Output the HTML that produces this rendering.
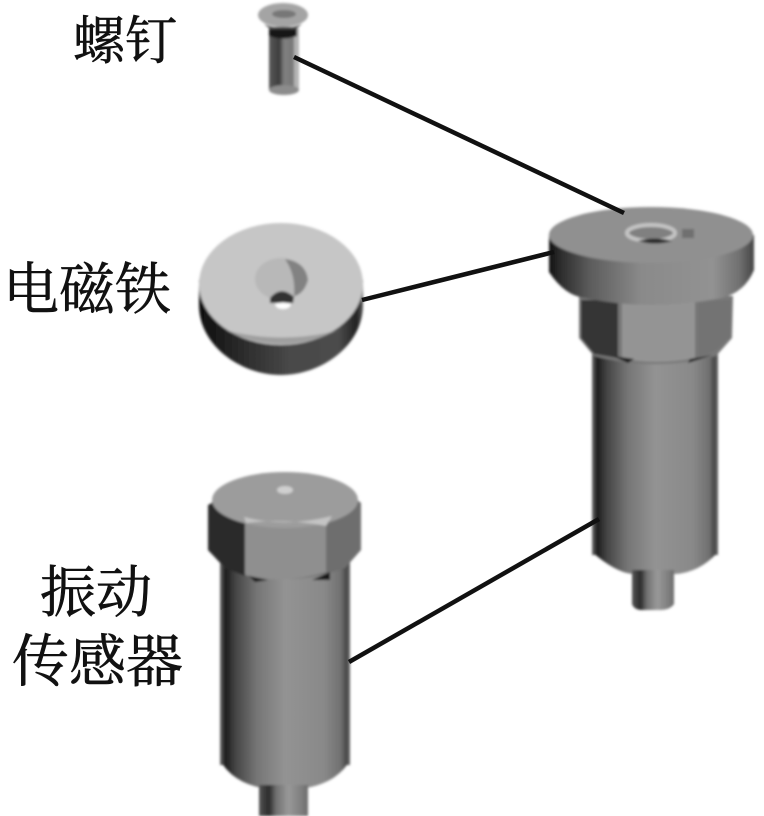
<!DOCTYPE html>
<html><head><meta charset="utf-8"><style>
html,body{margin:0;padding:0;background:#fff}
svg{display:block}
text{font-family:"Liberation Serif","Noto Serif CJK SC",serif;fill:#111;stroke:#111;stroke-width:.6}
</style></head><body>
<svg width="764" height="816" viewBox="0 0 764 816" xmlns="http://www.w3.org/2000/svg">
<defs>
<linearGradient id="body" x1="0" x2="1" y1="0" y2="0">
<stop offset="0" stop-color="#6a6a6a"/><stop offset=".04" stop-color="#1c1c1c"/><stop offset=".12" stop-color="#454545"/><stop offset=".28" stop-color="#757575"/><stop offset=".5" stop-color="#939393"/><stop offset=".8" stop-color="#898989"/><stop offset=".93" stop-color="#707070"/><stop offset=".97" stop-color="#484848"/><stop offset="1" stop-color="#666"/>
</linearGradient>
<linearGradient id="pin" x1="0" x2="1" y1="0" y2="0">
<stop offset="0" stop-color="#555"/><stop offset=".2" stop-color="#2a2a2a"/><stop offset=".35" stop-color="#707070"/><stop offset=".6" stop-color="#999"/><stop offset=".85" stop-color="#808080"/><stop offset="1" stop-color="#6c6c6c"/>
</linearGradient>
<linearGradient id="cap" x1="0" x2="1" y1="0" y2="0">
<stop offset="0" stop-color="#111"/><stop offset=".05" stop-color="#2a2a2a"/><stop offset=".2" stop-color="#5c5c5c"/><stop offset=".45" stop-color="#8a8a8a"/><stop offset=".8" stop-color="#929292"/><stop offset=".93" stop-color="#707070"/><stop offset="1" stop-color="#444"/>
</linearGradient>
<linearGradient id="mag" x1="0" x2="1" y1="0" y2="0">
<stop offset="0" stop-color="#0e0e0e"/><stop offset=".25" stop-color="#2a2a2a"/><stop offset=".55" stop-color="#484848"/><stop offset=".85" stop-color="#4c4c4c"/><stop offset=".96" stop-color="#222"/><stop offset="1" stop-color="#555"/>
</linearGradient>
<linearGradient id="screw" x1="0" x2="1" y1="0" y2="0">
<stop offset="0" stop-color="#5a5a5a"/><stop offset=".35" stop-color="#3c3c3c"/><stop offset=".5" stop-color="#808080"/><stop offset=".8" stop-color="#777"/><stop offset=".86" stop-color="#b4b4b4"/><stop offset="1" stop-color="#b4b4b4"/>
</linearGradient>
<filter id="soft" x="-5%" y="-5%" width="110%" height="110%"><feGaussianBlur stdDeviation="1.3"/></filter>
</defs>

<!-- labels -->
<text x="73" y="59" font-size="52">螺钉</text>
<text x="3" y="309" font-size="56">电磁铁</text>
<text x="40" y="612" font-size="56">振动</text>
<text x="12" y="681" font-size="57">传感器</text>

<g filter="url(#soft)">
<!-- screw -->
<rect x="269" y="28" width="30" height="62" fill="url(#screw)"/>
<ellipse cx="284" cy="90" rx="15" ry="5" fill="#8c8c8c"/>
<path d="M269 27 H297 V36 Q283 41 269 36Z" fill="#151515"/>
<ellipse cx="283" cy="15" rx="25" ry="12" fill="#a4a4a4"/>
<path d="M264 24 Q283 32 302 24 L296 29 H270Z" fill="#555"/>
<ellipse cx="284" cy="14" rx="12" ry="4" fill="#777"/>

<!-- magnet -->
<path d="M199 305 C199 345 240 375 281 375 C322 375 363 345 363 305 V280 H199Z" fill="url(#mag)"/>
<ellipse cx="281" cy="284" rx="82" ry="61" fill="#c6c6c6"/>
<path d="M225 330 Q281 358 340 330 Q281 345 225 330Z" fill="#777" opacity=".5"/>
<ellipse cx="281" cy="279" rx="26" ry="21" fill="#b8b8b8"/>
<path d="M285 259 Q306 262 308 280 Q304 294 294 296 Q296 275 285 259Z" fill="#828282"/>
<path d="M270 298 Q281 285 294 297 L293 303 H270Z" fill="#333"/>
<path d="M275 304 Q283 301 291 304 Q290 309 283 309 Q276 309 275 304Z" fill="#fff"/>

<!-- right assembly -->
<rect x="592" y="350" width="126" height="205" fill="url(#body)"/>
<path d="M592 552 Q615 572 632 574 H676 Q700 572 718 552Z" fill="url(#body)"/>
<path d="M632 570 H674 V604 Q670 610 660 610 H642 Q634 610 632 604Z" fill="url(#pin)"/>
<path d="M579 296 H733 L732 338 L716 356 Q655 372 594 356 L579 338Z" fill="#777"/>
<path d="M581 300 H618 V358 L594 354 L581 338Z" fill="#363636"/>
<path d="M622 300 H695 V358 Q655 366 622 358Z" fill="#949494"/>
<path d="M698 300 H731 V336 L714 352 L698 356Z" fill="#737373"/>
<path d="M613 356 L634 359 L628 363 Z M688 363 L712 355 L690 359Z" fill="#151515"/>
<path d="M549 235 V272 Q565 296 585 298 Q651 312 722 298 Q745 292 754 270 V235Z" fill="url(#cap)"/>
<ellipse cx="651" cy="235" rx="102" ry="28" fill="#909090"/>
<ellipse cx="651" cy="233" rx="24" ry="8" fill="#808080" stroke="#c4c4c4" stroke-width="4"/>
<path d="M638 241 Q655 236 672 241 Q655 246 638 241Z" fill="#2a2a2a"/>
<rect x="682" y="229" width="12" height="9" fill="#707070"/>

<!-- left sensor -->
<rect x="220" y="560" width="130" height="205" fill="url(#body)"/>
<path d="M220 760 Q232 782 262 788 H306 Q338 782 350 760Z" fill="url(#body)"/>
<path d="M259 785 H308 V816 H259Z" fill="url(#pin)"/>
<path d="M211 503 L225 490 Q285 465 345 490 L361 503 V550 L345 568 Q285 590 225 568 L208 550Z" fill="#6e6e6e"/>
<path d="M208 505 L224 497 L245 519 V576 L225 568 L208 550Z" fill="#2c2c2c"/>
<path d="M245 520 H326 V572 Q285 585 245 575Z" fill="#8f8f8f"/>
<ellipse cx="285" cy="500" rx="73" ry="28" fill="#9c9c9c"/>
<path d="M244 517 Q285 528 332 516 L326 526 Q285 518 246 523Z" fill="#c4c4c4"/>
<ellipse cx="285" cy="490" rx="8" ry="4" fill="#cfcfcf"/>
<path d="M249 576 L268 580 L255 582Z M312 580 L330 572 L330 580Z" fill="#151515"/>
</g>

<!-- connectors -->
<g stroke="#111" stroke-width="4.5" fill="none">
<line x1="294" y1="57" x2="624" y2="213"/>
<line x1="362" y1="300" x2="554" y2="252"/>
<line x1="349" y1="662" x2="599" y2="519"/>
</g>
</svg>
</body></html>
